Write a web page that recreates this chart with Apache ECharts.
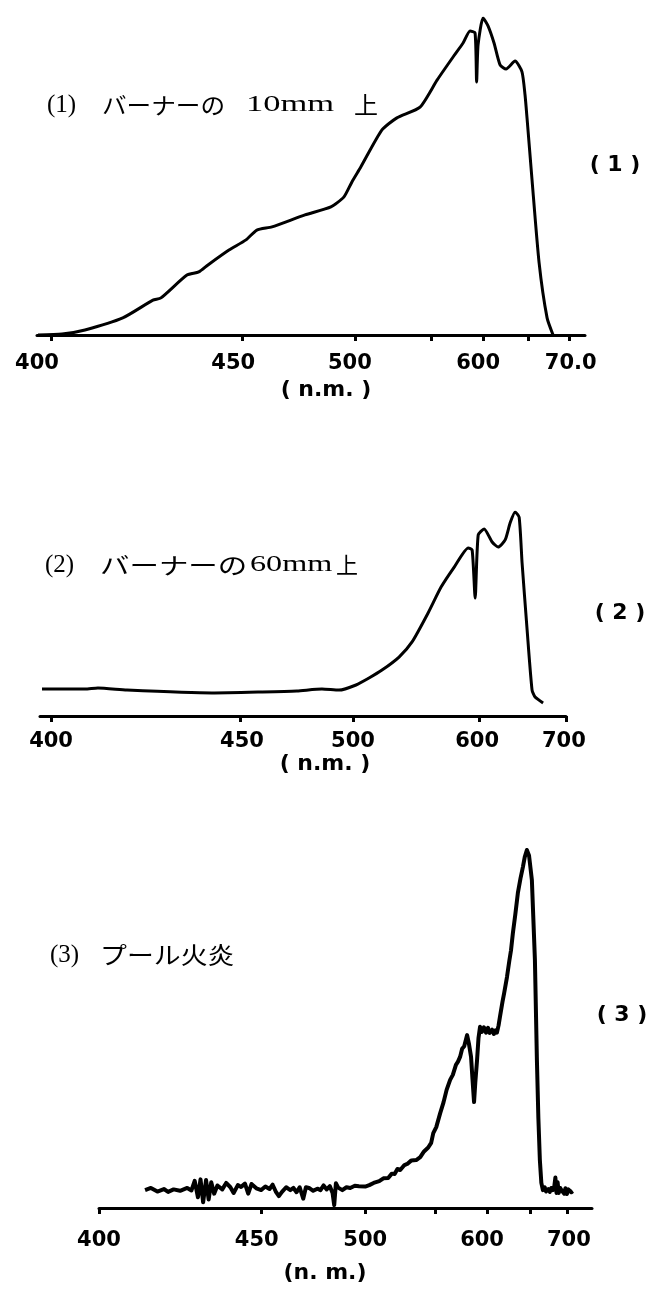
<!DOCTYPE html>
<html><head><meta charset="utf-8">
<script src="https://cdn.jsdelivr.net/npm/echarts@6/dist/echarts.min.js"></script>
<style>html,body{margin:0;padding:0;background:#fff}#c{width:665px;height:1291px}</style>
</head><body><div id="c"></div>
<script>
// ---------- Panel (1): 10 mm above the burner ----------
const p1TickNm   = [400, 450, 500, 550, 600, 650, 700];
const p1TickPos  = [2.55, 37.4, 58.0, 71.9, 81.4, 89.6, 97.1];
const p1LabelTxt = ['400', '450', '500', '600', '70.0'];
const p1LabelPos = [0, 35.8, 57.1, 80.5, 97.4];
const p1Nm  = [396.6,402.9,408.9,418.8,426.7,428.8,435.6,438.7,441.1,446.6,451.8,456.6,463.3,477.9,489.4,495.1,498.7,503.9,517.8,527.6,542.8,555.8,571.2,580.8,587.5,592.3,593.8,595.2,600.0,605.5,612.2,618.9,625.6,635.6,643.3,646.7,648.9,654.9,663.4,673.2,680.5];
const p1Int = [0,0.3,1.6,5.4,11.0,11.7,18.9,19.9,22.1,26.8,30.0,33.1,34.1,37.9,40.4,43.5,48.3,53.0,64.7,68.5,71.9,80.4,87.7,92.1,95.9,95.3,79.8,91.5,100,97.5,92.1,85.2,83.9,86.4,83.0,75.7,68.5,48.9,23.0,5.4,0];

// ---------- Panel (2): 60 mm above the burner ----------
const p2TickNm   = [400, 450, 500, 600, 700];
const p2TickPos  = [2.1, 38.0, 59.5, 83.5, 100];
const p2LabelTxt = ['400', '450', '500', '600', '700'];
const p2LabelPos = [2.1, 38.4, 59.5, 83.1, 99.6];
const p2Nm  = [397.6,409.0,412.4,420.1,442.6,460.0,475.2,486.3,493.8,502.4,512.7,523.0,536.5,546.8,559.5,569.8,580.2,591.3,594.4,596.8,599.2,605.7,614.9,621.8,629.9,635.6,641.4,646.0,649.4,655.2,660.9,664.4,673.6];
const p2Int = [13.2,13.2,13.7,12.7,11.3,11.8,12.3,13.2,12.7,15.2,18.6,22.5,28.9,36.3,50.5,63.2,73.0,82.4,81.4,57.8,88.7,91.7,85.3,82.8,86.3,94.6,100,97.5,75.0,42.2,12.7,9.3,6.4];

// ---------- Panel (3): pool fire ----------
const p3TickNm   = [400, 450, 500, 550, 600, 650, 700];
const p3TickPos  = [0, 32.9, 54.0, 68.2, 78.7, 87.4, 94.9];
const p3LabelTxt = ['400', '450', '500', '600', '700'];
const p3LabelPos = [0, 32.0, 54.0, 77.7, 95.3];
const p3Nm  = [414.2,416,418,420,421.3,423,425,427.2,428.5,429.5,430.5,431.3,432.1,433.0,433.8,434.6,435.5,436.5,438,439.2,440.5,441.5,442.8,443.8,445,446,447,448.5,450,452,454,455.5,457,458.5,460,462,464,465.5,467,468.5,470.2,471.5,473,475,477,478.5,480,481.5,483,484.3,485.1,485.9,487,489,491,492.8,495,497,500,502.9,506,510,513,516.4,519,521,523,525,528,530,533,536.4,539.3,542,545,547.1,548.6,551,554.8,558,561,564.4,567,570,572,574.0,576,578,580.8,582.5,584.6,586,587.5,588.7,590.4,591.8,593.3,595,597,599,601.2,603,606,608,610,611.6,613.5,615.1,618,620,623.3,626,628,630.2,633,636.0,639,641.9,644,646.5,649,652.7,656.8,659.5,661.5,663.5,665.5,667.6,670,672,675,677,679,681.1,683,684.5,686,687.5,689,691,693,694.6,696.5,698,700,702,704,706,708.1];
const p3Int = [5.0,5.6,4.6,5.3,4.5,5.2,4.8,5.6,4.9,7.6,3.0,8.0,1.6,7.8,2.4,7.2,4.0,6.3,5.2,7.0,5.8,4.2,6.4,5.9,6.8,4.0,6.7,5.5,5.0,6.0,5.3,6.5,4.6,3.3,4.5,5.8,5.0,5.6,4.4,5.8,2.6,5.8,5.6,4.8,5.4,5.0,6.3,5.2,6.1,4.2,0.8,6.9,5.7,5.0,5.8,5.6,6.2,6.1,6.0,6.4,7.0,7.5,8.3,8.4,9.6,9.5,10.9,10.6,12.0,12.3,13.3,13.4,14.2,15.8,16.9,18.2,20.9,22.6,26.5,29.5,33.0,35.8,37.2,40.0,40.9,42.2,44.5,45.2,48.3,46.0,42.2,36.0,29.6,35.0,41.3,47.5,50.6,49.2,50.5,49.0,50.3,48.9,49.8,48.6,49.6,49.0,51.0,53.4,57.5,60.0,64.5,69.0,72.0,76.8,82.0,88.0,92.0,95.3,98.0,100,98.5,91.6,69.3,41.3,25.0,13.4,7.0,5.0,5.8,4.6,5.3,4.5,5.6,5.0,6.0,8.5,4.2,7.2,4.2,5.6,4.9,5.3,4.0,5.5,3.9,5.2,5.6,4.4,4.7];

// wavelength -> position on the recorder chart (piecewise linear calibration)
function toPos(nm, calNm, calPos) {
  let i = 0;
  if (nm <= calNm[0]) i = 0;
  else if (nm >= calNm[calNm.length - 1]) i = calNm.length - 2;
  else { while (nm > calNm[i + 1]) i++; }
  const t = (nm - calNm[i]) / (calNm[i + 1] - calNm[i]);
  return calPos[i] + t * (calPos[i + 1] - calPos[i]);
}
function series(nm, val, calNm, calPos) {
  return nm.map((n, k) => [toPos(n, calNm, calPos), val[k]]);
}
function labelFmt(pos, txt) {
  return function (v) {
    let best = 0;
    for (let k = 1; k < pos.length; k++) if (Math.abs(pos[k] - v) < Math.abs(pos[best] - v)) best = k;
    return txt[best];
  };
}

const grids = [
  { left: 37, width: 548, top: 18, height: 317 },
  { left: 40, width: 526, top: 512, height: 204 },
  { left: 99, width: 493, top: 850, height: 358 }
];
const panels = [
  [p1TickPos, p1LabelPos, p1LabelTxt, 18],
  [p2TickPos, p2LabelPos, p2LabelTxt, 15],
  [p3TickPos, p3LabelPos, p3LabelTxt, 22]
];
const xAxes = panels.map((p, i) => ({
  type: 'value', gridIndex: i, min: 0, max: 100,
  axisLine: { show: true, lineStyle: { color: '#000', width: 3 } },
  axisTick: { show: true, customValues: p[0], length: 6, inside: false, lineStyle: { color: '#000', width: 3 } },
  axisLabel: { show: true, customValues: p[1], formatter: labelFmt(p[1], p[2]), margin: p[3],
    color: '#000', fontWeight: 'bold', fontSize: 21, fontFamily: 'DejaVu Sans' },
  splitLine: { show: false }
}));
const yAxes = [0, 1, 2].map(i => ({ type: 'value', gridIndex: i, min: 0, max: 100, show: false }));

const lineCommon = { type: 'line', showSymbol: false, symbol: 'none', animation: false };
const chart = echarts.init(document.getElementById('c'), null, { renderer: 'canvas' });
const serif = '"Liberation Serif", "Noto Sans CJK JP", serif';
const jp = '"Noto Sans CJK JP", sans-serif';
const numFont = 'bold 22px "DejaVu Sans"';
function txt(x, y, s, font, align, sx) {
  return { type: 'text', x: x, y: y, scaleX: sx || 1,
    style: { text: s, font: font, fill: '#000', align: align || 'left', verticalAlign: 'middle' } };
}
chart.setOption({
  backgroundColor: '#fff',
  animation: false,
  grid: grids,
  xAxis: xAxes,
  yAxis: yAxes,
  series: [
    Object.assign({}, lineCommon, { xAxisIndex: 0, yAxisIndex: 0, smooth: 0.2,
      data: series(p1Nm, p1Int, p1TickNm, p1TickPos), lineStyle: { color: '#000', width: 3 } }),
    Object.assign({}, lineCommon, { xAxisIndex: 1, yAxisIndex: 1, smooth: 0.2,
      data: series(p2Nm, p2Int, p2TickNm, p2TickPos), lineStyle: { color: '#000', width: 3 } }),
    Object.assign({}, lineCommon, { xAxisIndex: 2, yAxisIndex: 2, smooth: false,
      data: series(p3Nm, p3Int, p3TickNm, p3TickPos), lineStyle: { color: '#000', width: 4, join: 'round' } })
  ],
  graphic: [
    txt(47, 105, '(1)', '25px ' + serif),
    txt(102, 105, 'バーナーの', '23px ' + jp, 'left', 1.07),
    txt(246, 105, '10mm', '23px ' + serif, 'left', 1.5),
    txt(354, 105, '上', '24px ' + jp),
    txt(45, 565, '(2)', '25px ' + serif),
    txt(100, 565, 'バーナーの', '23px ' + jp, 'left', 1.28),
    txt(250, 565, '60mm', '23px ' + serif, 'left', 1.4),
    txt(336, 565, '上', '22px ' + jp),
    txt(50, 955, '(3)', '25px ' + serif),
    txt(100, 955, 'プール火炎', '24px ' + jp, 'left', 1.12),
    txt(615, 165, '( 1 )', numFont, 'center'),
    txt(620, 613, '( 2 )', numFont, 'center'),
    txt(622, 1015, '( 3 )', numFont, 'center'),
    txt(326, 390, '( n.m. )', numFont, 'center'),
    txt(325, 764, '( n.m. )', numFont, 'center'),
    txt(325, 1273, '(n. m.)', numFont, 'center')
  ]
});
</script></body></html>
